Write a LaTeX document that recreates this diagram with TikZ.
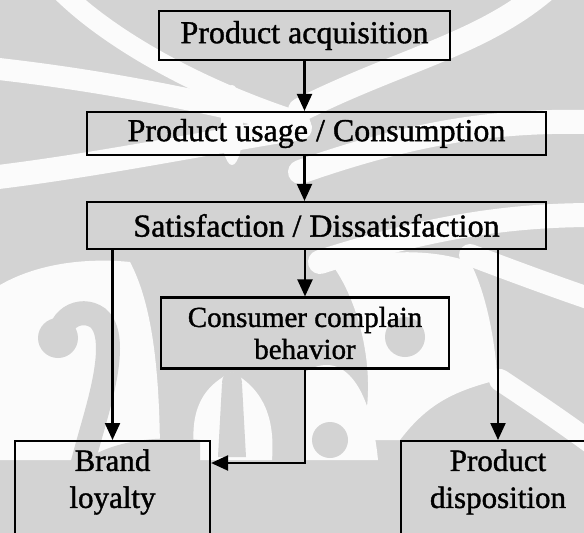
\documentclass[tikz,border=0pt]{standalone}
\usepackage{fontspec}
\setmainfont{Liberation Serif}
\newfontfamily\scan{Liberation Serif}[FakeBold=1.2]
\usetikzlibrary{arrows.meta,calc}
\definecolor{bggrey}{HTML}{D3D3D3}
\definecolor{wm}{HTML}{FBFBFB}
\begin{document}
\begin{tikzpicture}[x=1pt,y=-1pt,
  box/.style={draw, line width=2.2pt, rectangle, inner sep=0pt},
  big/.style={font=\scan\fontsize{32}{36}\selectfont},
  mid/.style={font=\scan\fontsize{29}{32}\selectfont},
  low/.style={font=\scan\fontsize{31}{37}\selectfont},
  txt/.style={inner sep=0pt, align=center},
  band/.style={draw=wm, line cap=round},
  gband/.style={draw=bggrey, line cap=round},
  conn/.style={line width=2.2pt, -{Triangle[width=15pt,length=17pt]}}]
\useasboundingbox (0,0) rectangle (584,533);
\fill[bggrey] (0,0) rectangle (584,533);
\clip (0,0) rectangle (584,533);
% watermark (approximate)
\begin{scope}
% upper swooshes
\draw[band, line width=22pt] (-10,68) .. controls (100,80) and (200,100) .. (300,125);
\draw[band, line width=20pt] (60,-10) .. controls (110,40) and (200,90) .. (300,122);
\draw[band, line width=24pt] (-10,178) .. controls (100,165) and (220,140) .. (300,128);
\draw[band, line width=24pt] (300,110) .. controls (400,60) and (480,45) .. (545,-10);
\draw[band, line width=24pt] (300,172) .. controls (420,130) and (500,120) .. (594,122);
\draw[band, line width=24pt] (320,262) .. controls (420,230) and (500,215) .. (594,215);
\fill[wm] (232,125) ellipse [x radius=11, y radius=40];
% lower light field
\fill[wm] (0,285) .. controls (40,262) and (90,258) .. (130,262)
  .. controls (150,300) and (160,360) .. (160,460) -- (0,460) -- cycle;
\fill[wm] (195,460) .. controls (190,420) and (195,390) .. (232,372)
  .. controls (265,390) and (275,420) .. (272,460) -- cycle;
\fill[wm] (305,460) -- (305,372) .. controls (340,350) and (370,380) .. (378,460) -- cycle;
\fill[wm] (330,262) .. controls (380,250) and (430,248) .. (470,262)
  .. controls (490,300) and (497,360) .. (497,380) .. controls (460,390) and (430,400) .. (400,440)
  -- (360,440) .. controls (380,380) and (360,300) .. (330,262) -- cycle;
\draw[band, line width=22pt] (470,255) .. controls (510,270) and (550,285) .. (594,300);
\draw[band, line width=22pt] (500,380) .. controls (530,400) and (560,420) .. (594,445);
% grey motifs on the light field
\draw[gband, line width=24pt] (60,345) .. controls (55,320) and (80,305) .. (98,318)
  .. controls (112,330) and (110,360) .. (100,400) .. controls (90,440) and (75,480) .. (70,533);
\fill[bggrey] (58,338) circle [radius=20];
\fill[bggrey] (40,533) .. controls (50,470) and (100,430) .. (200,440) -- (200,533) -- cycle;
\fill[bggrey] (232,382) circle [radius=10];
\fill[bggrey] (222,384) -- (242,384) -- (246,457) -- (218,457) -- cycle;
\fill[bggrey] (330,440) circle [radius=18];
\fill[bggrey] (405,337) circle [radius=20];
\end{scope}
% boxes
\node[box, big, minimum width=291, minimum height=49] (acq) at (304.5,35.5) {Product acquisition};
\node[box, big, minimum width=459, minimum height=43] (use) at (316.5,133.5) {Product usage / Consumption};
\node[box, big, minimum width=459, minimum height=47] (sat) at (316.5,225.5) {Satisfaction / Dissatisfaction};
\node[box, mid, txt, minimum width=288, minimum height=71] (ccb) at (305,333) {Consumer complain\\behavior};
\node[box, minimum width=195, minimum height=120, anchor=north] (bl) at (112.5,440) {};
\node[box, minimum width=194, minimum height=120, anchor=north] (pd) at (498,440) {};
\node[txt, low] (blt) at (112.5,482) {Brand\\loyalty};
\node[txt, low] (pdt) at (498,482) {Product\\disposition};
% connectors
\draw[conn] (acq.south) -- (acq.south |- use.north);
\draw[conn] (acq.south |- use.south) -- (acq.south |- sat.north);
\draw[conn] (ccb.north |- sat.south) -- (ccb.north);
\draw[conn] (bl.north |- sat.south) -- (bl.north);
\draw[conn] (pd.north |- sat.south) -- (pd.north);
\coordinate (elb) at ($(bl.north east)+(0,23)$);
\draw[conn] (ccb.south) |- (elb);
\end{tikzpicture}
\end{document}
